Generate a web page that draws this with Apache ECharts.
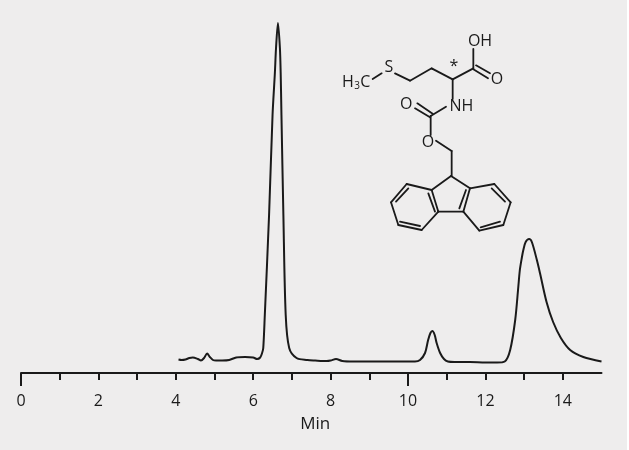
<!DOCTYPE html>
<html>
<head>
<meta charset="utf-8">
<style>
html, body { margin: 0; padding: 0; background: #fff; }
#main { width: 629px; height: 450px; }
</style>
<script src="https://cdn.jsdelivr.net/npm/echarts@6/dist/echarts.min.js"></script>
</head>
<body>
<div id="main"></div>
<script>
// retention time (min) and detector signal
var times = [4.07, 4.15, 4.25, 4.35, 4.44, 4.57, 4.65, 4.73, 4.81, 4.88, 4.96, 5.04, 5.2, 5.38, 5.56, 5.79, 6.0, 6.1, 6.18, 6.23,
	6.26, 6.3, 6.41, 6.5, 6.56, 6.59, 6.64, 6.69, 6.71, 6.73, 6.78, 6.84, 6.93, 7.12, 7.4, 7.6, 7.9, 8.0, 8.14, 8.3, 8.6, 9.2, 9.8,
	10.18, 10.31, 10.44, 10.52, 10.58, 10.63, 10.69, 10.74, 10.83, 10.93, 11.03, 11.2, 11.6, 12.0, 12.3, 12.5,
	12.64, 12.77, 12.85, 12.89, 12.94, 12.98, 13.04, 13.13, 13.2, 13.33, 13.41, 13.58, 13.75, 13.95, 14.19, 14.53, 15.0];
var signal = [13.5, 13, 13.5, 15, 15.5, 14, 12.5, 15, 19.5, 16, 13, 12.5, 12.5, 13, 15.5, 16, 15.5, 14, 15.5, 20,
	25, 58, 158, 258, 300, 325, 350, 325, 300, 258, 158, 58, 25, 15, 13, 12.5, 12, 12.5, 14, 12, 11.5, 11.5, 11.5,
	11.5, 13, 20, 33, 40, 42, 38, 30, 20, 14, 11.5, 11, 11, 10.5, 10.5, 11.5,
	23, 53, 86, 103, 115, 123, 131, 134, 131, 113, 100, 71, 51, 35, 23, 16, 11.5];

var tickValues = [1, 2, 3, 4, 5, 6, 7, 8, 9, 11, 12, 13, 14];
var longTickValues = [0, 10];
var labelValues = [0, 2, 4, 6, 8, 10, 12, 14];
var axisName = 'Min';

// structure drawing, in a 3x sketch of its own box
var bonds = [
	[128, 177, 155, 160], [195, 160, 240, 182], [240, 182, 305, 145], [305, 145, 368, 178], [368, 178, 430, 145],
	[430, 148, 474, 175], [438, 136, 480, 160], [430, 145, 430, 87], [368, 178, 368, 237], [348, 260, 302, 288],
	[300, 292, 255, 265], [308, 281, 262, 250], [302, 288, 302, 345], [318, 362, 365, 393], [365, 393, 365, 468],
	[363, 468, 305, 510], [363, 468, 420, 505], [305, 510, 325, 575], [420, 505, 400, 575], [325, 575, 400, 575],
	[305, 510, 230, 492], [230, 492, 183, 547], [183, 547, 205, 615], [205, 615, 275, 630], [275, 630, 325, 575],
	[420, 505, 493, 492], [493, 492, 542, 547], [542, 547, 520, 615], [520, 615, 448, 632], [448, 632, 400, 575],
	[295, 520, 315, 575], [235, 505, 198, 545], [210, 605, 270, 618], [408, 510, 388, 565], [485, 505, 525, 545], [452, 622, 510, 605]
];
var atoms = [
	['OH', 450, 63], ['O', 501, 178], ['S', 177, 143], ['*', 372, 138], ['O', 229, 252],
	['NH', 394, 258], ['O', 294, 367], ['H', 54, 188], ['C', 106, 188]
];

var bg = '#eeeded';
var ink = '#1a1a1a';
var font = '"Open Sans", "Noto Sans", sans-serif';

var graphics = [{
	type : 'rect',
	z : -1,
	shape : { x : 0, y : 0, width : 627, height : 450 },
	style : { fill : bg }
}];
bonds.forEach(function(b) {
	graphics.push({
		type : 'line',
		shape : { x1 : 330 + b[0] / 3, y1 : 20 + b[1] / 3, x2 : 330 + b[2] / 3, y2 : 20 + b[3] / 3 },
		style : { stroke : ink, lineWidth : 1.8, lineCap : 'round' }
	});
});
atoms.forEach(function(a) {
	graphics.push({
		type : 'text',
		x : 330 + a[1] / 3,
		y : 20 + a[2] / 3,
		style : { text : a[0], fill : ink, font : '16px ' + font, align : 'center', verticalAlign : 'middle' }
	});
});
graphics.push({
	type : 'text',
	x : 330 + 81 / 3,
	y : 20 + 198 / 3,
	style : { text : '3', fill : ink, font : '10px ' + font, align : 'center', verticalAlign : 'middle' }
});

var chart = echarts.init(document.getElementById('main'));
var points = times.map(function(t, i) {
	return [t, signal[i]];
});
chart.setOption({
	animation : false,
	backgroundColor : 'transparent',
	grid : { left : 21, right : 27.5, top : 13, bottom : 77 },
	graphic : graphics,
	xAxis : [ {
		type : 'value',
		min : 0,
		max : 15,
		interval : 1,
		position : 'bottom',
		splitLine : { show : false },
		axisLine : { lineStyle : { color : ink, width : 2 } },
		axisTick : { length : 7, customValues : tickValues, lineStyle : { color : ink, width : 2 } },
		axisLabel : { customValues : labelValues, color : ink, fontFamily : font, fontSize : 16, margin : 20 },
		name : axisName,
		nameLocation : 'middle',
		nameGap : 43,
		nameTextStyle : { color : ink, fontFamily : font, fontSize : 17, padding : [ 0, 0, 0, 8 ] }
	}, {
		// the taller ticks at 0 and 10
		type : 'value',
		min : 0,
		max : 15,
		position : 'bottom',
		splitLine : { show : false },
		axisLine : { show : false },
		axisTick : { length : 13, customValues : longTickValues, lineStyle : { color : ink, width : 2 } },
		axisLabel : { show : false }
	} ],
	yAxis : { type : 'value', min : 0, max : 360, show : false },
	series : [ {
		type : 'line',
		data : points,
		showSymbol : false,
		smooth : 0.3,
		lineStyle : { color : ink, width : 2 }
	} ]
});
</script>
</body>
</html>
